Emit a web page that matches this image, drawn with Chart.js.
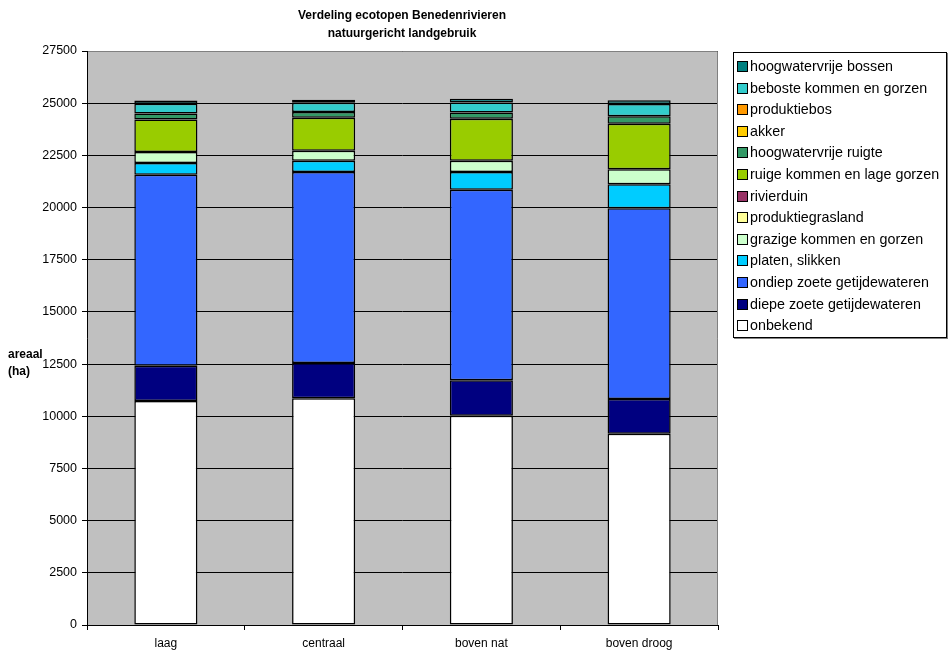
<!DOCTYPE html>
<html><head><meta charset="utf-8">
<script src="https://cdn.jsdelivr.net/npm/chart.js@4/dist/chart.umd.min.js"></script>
<style>
html,body{margin:0;padding:0;background:#fff;}
#wrap{position:relative;width:949px;height:653px;font-family:"Liberation Sans",Arial,sans-serif;}
canvas{position:absolute;left:0;top:0;}
#title{position:absolute;left:252px;width:300px;top:6px;text-align:center;font-weight:bold;font-size:12px;line-height:18px;}
#ytitle{position:absolute;left:8px;top:346px;font-weight:bold;font-size:12px;line-height:17px;}
#legend{position:absolute;left:733px;top:52px;width:214px;height:286px;border:1px solid #000;box-sizing:border-box;box-shadow:1px 1px 0 #808080;padding:3px 0 0 3px;font-size:14.3px;}
.li{height:21.6px;line-height:21.6px;white-space:nowrap;}
.sw{display:inline-block;width:9px;height:9px;border:1px solid #000;margin-right:2px;vertical-align:-1px;}
</style></head>
<body><div id="wrap">
<canvas id="c" width="949" height="653"></canvas>
<div id="title">Verdeling ecotopen Benedenrivieren<br>natuurgericht landgebruik</div>
<div id="ytitle">areaal<br>(ha)</div>
<div id="legend"></div>
</div>
<script>
const categories = ["laag", "centraal", "boven nat", "boven droog"];
const seriesNames = ["onbekend","diepe zoete getijdewateren","ondiep zoete getijdewateren","platen, slikken","grazige kommen en gorzen","produktiegrasland","rivierduin","ruige kommen en lage gorzen","hoogwatervrije ruigte","akker","produktiebos","beboste kommen en gorzen","hoogwatervrije bossen"];
const onbekend = [10730, 10860, 10030, 9165];
const diepe = [1690, 1690, 1695, 1663];
const ondiep = [9150, 9151, 9132, 9136];
const platen = [560, 542, 848, 1150];
const grazige = [527, 479, 542, 718];
const produktiegrasland = [0, 0, 0, 0];
const rivierduin = [0, 0, 0, 0];
const ruige = [1567, 1581, 2003, 2185];
const hwvRuigte = [287, 273, 302, 355];
const akker = [0, 0, 0, 0];
const produktiebos = [0, 0, 0, 0];
const beboste = [460, 445, 479, 589];
const hwvBossen = [163, 144, 178, 177];
const yTicks = [0,2500,5000,7500,10000,12500,15000,17500,20000,22500,25000,27500];

const seriesData = [onbekend,diepe,ondiep,platen,grazige,produktiegrasland,rivierduin,ruige,hwvRuigte,akker,produktiebos,beboste,hwvBossen];
const colors = ["#FFFFFF","#000080","#3366FF","#00CCFF","#CCFFCC","#FFFF99","#993366","#99CC00","#339966","#FFCC00","#FF9900","#33CCCC","#008080"];

const datasets = seriesNames.map((n,i)=>({label:n,data:seriesData[i].map(v=>v===0?null:v),backgroundColor:colors[i],borderColor:"#000",borderWidth:1.5,borderSkipped:false,barPercentage:0.4,categoryPercentage:1}));

const leg = document.getElementById('legend');
for (let i = seriesNames.length-1; i>=0; i--) {
  const d = document.createElement('div'); d.className='li';
  d.innerHTML = '<span class="sw" style="background:'+colors[i]+'"></span>'+seriesNames[i];
  leg.appendChild(d);
}

const bg = {id:'bg',beforeDraw(chart){const a=chart.chartArea,ctx=chart.ctx;ctx.save();ctx.fillStyle='#C0C0C0';ctx.fillRect(a.left,a.top,a.right-a.left,a.bottom-a.top);ctx.restore();},
 afterDraw(chart){const a=chart.chartArea,ctx=chart.ctx;ctx.save();ctx.strokeStyle='#808080';ctx.lineWidth=1;ctx.beginPath();ctx.moveTo(a.left,a.top+0.5);ctx.lineTo(a.right-0.5,a.top+0.5);ctx.lineTo(a.right-0.5,a.bottom);ctx.stroke();ctx.strokeStyle='#000';ctx.beginPath();ctx.moveTo(a.left+0.5,a.top);ctx.lineTo(a.left+0.5,a.bottom+0.5);ctx.lineTo(a.right,a.bottom+0.5);ctx.stroke();ctx.restore();}};

Chart.defaults.font.family = '"Liberation Sans", Arial, sans-serif';
Chart.defaults.color = '#000';
new Chart(document.getElementById('c'), {
  type:'bar',
  data:{labels:categories,datasets:datasets},
  options:{
    responsive:false,animation:false,
    layout:{padding:{left:0,top:51,right:231,bottom:0}},
    plugins:{legend:{display:false},tooltip:{enabled:false}},
    scales:{
      x:{stacked:true,offset:true,grid:{display:true,drawOnChartArea:false,offset:true,color:'#000',tickLength:5},border:{display:false},ticks:{font:{size:12},padding:6},afterFit(s){s.height=28;}},
      y:{stacked:true,min:0,max:27500,afterBuildTicks(s){s.ticks=yTicks.map(v=>({value:v}));},grid:{color:'#000',tickLength:5},border:{display:false},ticks:{font:{size:12.5},padding:5,callback:v=>String(v)},afterFit(s){s.width=87;}}
    }
  },
  plugins:[bg]
});
</script>
</body></html>
